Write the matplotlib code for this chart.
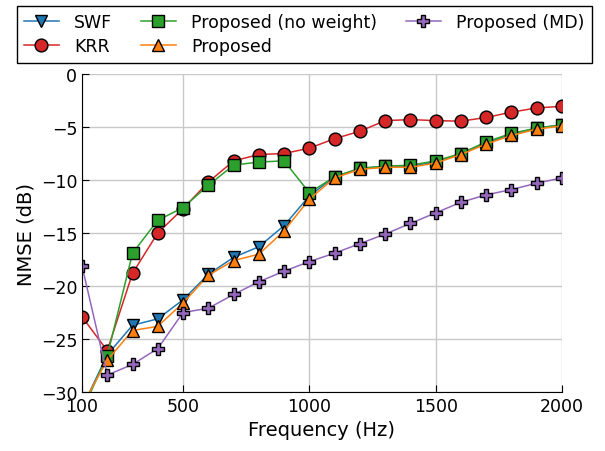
import matplotlib
matplotlib.use("Agg")
import matplotlib.pyplot as plt

freqs = [100, 200, 300, 400, 500, 600, 700, 800, 900, 1000,
         1100, 1200, 1300, 1400, 1500, 1600, 1700, 1800, 1900, 2000]

swf = [-31.5, -26.5, -23.7, -23.1, -21.3, -18.9, -17.3, -16.3, -14.3, -11.5,
       -9.7, -8.9, -8.7, -8.7, -8.3, -7.5, -6.5, -5.7, -5.1, -4.8]
krr = [-22.9, -26.1, -18.8, -15.0, -12.7, -10.2, -8.2, -7.6, -7.5, -7.0,
       -6.1, -5.4, -4.4, -4.3, -4.4, -4.45, -4.1, -3.6, -3.2, -3.05]
no_weight = [-31.8, -26.6, -16.9, -13.8, -12.6, -10.5, -8.6, -8.3, -8.2, -11.2,
             -9.7, -8.9, -8.7, -8.6, -8.2, -7.5, -6.4, -5.6, -5.1, -4.8]
proposed = [-31.3, -27.0, -24.2, -23.8, -21.6, -19.0, -17.6, -17.0, -14.8, -11.8,
            -9.8, -9.0, -8.8, -8.8, -8.4, -7.6, -6.6, -5.8, -5.2, -4.9]
proposed_md = [-18.1, -28.4, -27.4, -25.9, -22.5, -22.1, -20.8, -19.6, -18.6, -17.7,
               -16.9, -16.0, -15.1, -14.1, -13.1, -12.1, -11.4, -10.9, -10.3, -9.8]

labels = ["SWF", "KRR", "Proposed (no weight)", "Proposed", "Proposed (MD)"]
xticks = [100, 500, 1000, 1500, 2000]
yticks = [0, -5, -10, -15, -20, -25, -30]

fig = plt.figure(figsize=(6.05, 4.52), dpi=100)
ax = fig.add_axes([82/605, 1-393/452, (562-82)/605, (393-75)/452])

series = [swf, krr, no_weight, proposed, proposed_md]
colors = ["tab:blue", "tab:red", "tab:green", "tab:orange", "tab:purple"]
markers = ["v", "o", "s", "^", "P"]
for s, c, m, lab in zip(series, colors, markers, labels):
    ax.plot(freqs, s, color=c, marker=m, markersize=9.2, markerfacecolor=c,
            markeredgecolor="black", markeredgewidth=1.0, linewidth=1.1,
            label=lab, clip_on=True)

ax.set_xlim(100, 2000)
ax.set_ylim(-30, 0)
ax.set_xticks(xticks)
ax.set_yticks(yticks)
ax.grid(True, color="#c8c8c8", linewidth=1.0)
ax.set_axisbelow(True)
for sp in ["top", "right"]:
    ax.spines[sp].set_visible(False)
ax.tick_params(direction="in", labelsize=12.5, length=5)
ax.set_xlabel("Frequency (Hz)", fontsize=14)
ax.set_ylabel("NMSE (dB)", fontsize=14)

handles, labs = ax.get_legend_handles_labels()
fig.legend(handles, labs, loc="upper center", bbox_to_anchor=(0.503, 0.997),
           ncol=3, fontsize=12.5, fancybox=False, edgecolor="black",
           framealpha=1, borderaxespad=0.3, columnspacing=1.65,
           handletextpad=0.9, labelspacing=0.38, borderpad=0.42)

fig.savefig("out.png", dpi=100)
